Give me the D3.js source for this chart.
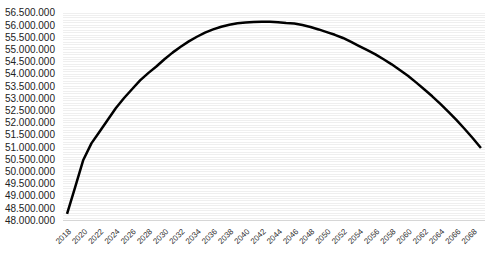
<!DOCTYPE html>
<html>
<head>
<meta charset="utf-8">
<script src="https://cdn.jsdelivr.net/npm/d3@7"></script>
<style>
  body { margin: 0; background: #fff; }
  svg { display: block; font-family: "Liberation Sans", Arial, sans-serif; }
</style>
</head>
<body>
<div id="chart"></div>
<script>
var years = d3.range(2018, 2070);

// population (millions)
var population = [
  48.25, 49.35, 50.46, 51.14, 51.62, 52.10, 52.58, 52.99, 53.36, 53.72,
  54.02, 54.29, 54.59, 54.86, 55.10, 55.32, 55.51, 55.68, 55.81, 55.92,
  56.00, 56.06, 56.09, 56.11, 56.12, 56.12, 56.10, 56.07, 56.05, 55.99,
  55.91, 55.81, 55.70, 55.59, 55.46, 55.30, 55.13, 54.96, 54.79, 54.59,
  54.38, 54.15, 53.91, 53.64, 53.36, 53.07, 52.76, 52.43, 52.09, 51.73,
  51.35, 50.95
].map(function (d) { return d * 1e6; });

var yTicks = d3.range(48000000, 56500001, 500000);
var gridValues = d3.range(48000000, 56500001, 100000);
var xTickYears = years.filter(function (y) { return (y - 2018) % 2 === 0; });

var svgWidth = 501;
var svgHeight = 256;

var margin = { top: 12.6, right: 16, bottom: 36, left: 63 };

var svg = d3
  .select("#chart")
  .append("svg")
  .attr("width", svgWidth)
  .attr("height", svgHeight);

var x = d3
  .scalePoint()
  .domain(years)
  .range([margin.left, svgWidth - margin.right])
  .padding(0.5);

var y = d3
  .scaleLinear()
  .domain([48000000, 56500000])
  .range([svgHeight - margin.bottom, margin.top]);

var locale = d3.formatLocale({
  decimal: ",",
  thousands: ".",
  grouping: [3],
  currency: ["", " €"],
});
var fmt = locale.format(",d");

// faint grid
svg
  .append("g")
  .selectAll("line")
  .data(gridValues)
  .enter()
  .append("line")
  .attr("x1", margin.left)
  .attr("x2", svgWidth - margin.right)
  .attr("y1", (d) => Math.round(y(d)) + 0.5)
  .attr("y2", (d) => Math.round(y(d)) + 0.5)
  .attr("stroke", "#efefef")
  .attr("stroke-width", 1);

// y axis
var yAxis = svg
  .append("g")
  .attr("transform", `translate(${margin.left - 8}, 0)`)
  .call(d3.axisLeft(y).tickValues(yTicks).tickFormat(fmt).tickSize(0));
yAxis.select(".domain").remove();
yAxis
  .selectAll("text")
  .attr("font-size", "10px")
  .attr("font-family", "Liberation Sans, Arial, sans-serif")
  .attr("fill", "#222")
  .attr("x", 0);

// x axis
var xAxis = svg
  .append("g")
  .attr("transform", `translate(0, ${svgHeight - margin.bottom})`)
  .call(d3.axisBottom(x).tickValues(xTickYears).tickSize(0));
xAxis
  .select(".domain")
  .attr("stroke", "#d6d6d6")
  .attr("d", `M${margin.left},0.5H${svgWidth - margin.right}`);
xAxis
  .selectAll("text")
  .attr("font-size", "8px")
  .attr("font-family", "Liberation Sans, Arial, sans-serif")
  .attr("fill", "#333")
  .attr("text-anchor", "end")
  .attr("dy", null)
  .attr("y", 0)
  .attr("transform", "translate(4, 12) rotate(-45)");

// line
var line = d3
  .line()
  .x((d, i) => x(years[i]))
  .y((d) => y(d));

svg
  .append("path")
  .datum(population)
  .attr("fill", "none")
  .attr("stroke", "#000")
  .attr("stroke-width", 2.5)
  .attr("stroke-linejoin", "round")
  .attr("d", line);
</script>
</body>
</html>
